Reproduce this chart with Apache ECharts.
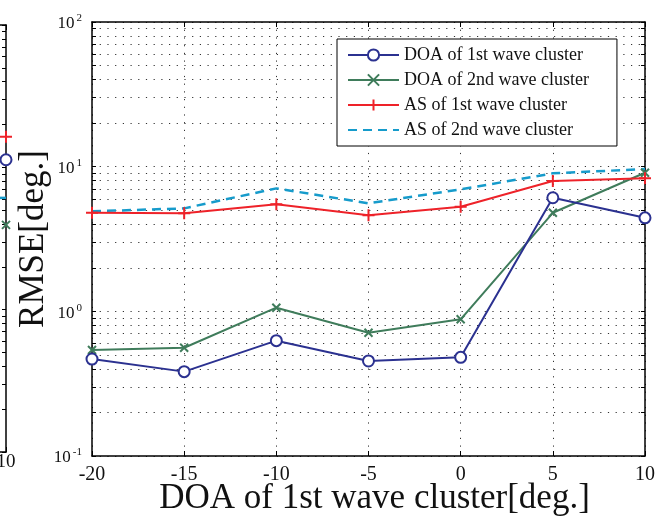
<!DOCTYPE html>
<html><head><meta charset="utf-8">
<script src="https://cdn.jsdelivr.net/npm/echarts@6/dist/echarts.min.js"></script>
<style>html,body{margin:0;padding:0;background:#fff}#c{width:667px;height:518px}</style>
</head><body><div id="c"></div>
<script>
const xValues = [-20, -15, -10, -5, 0, 5, 10];
const doa1 = [0.468, 0.383, 0.627, 0.454, 0.481, 6.10, 4.43];
const doa2 = [0.541, 0.560, 1.06, 0.711, 0.881, 4.80, 9.08];
const as1 = [4.80, 4.76, 5.49, 4.61, 5.28, 7.95, 8.30];
const as2 = [4.91, 5.15, 7.08, 5.58, 6.97, 8.99, 9.63];
// clipped neighbouring panel on the far left: only its x=10 points are visible
const leftX = [10];
const leftDoa1 = [11.3];
const leftDoa2 = [3.94];
const leftAs1 = [16.4];
const leftAs2 = [6.1];
const seriesNames = ['DOA of 1st wave cluster', 'DOA of 2nd wave cluster', 'AS of 1st wave cluster', 'AS of 2nd wave cluster'];
const xTickLabels = [-20, -15, -10, -5, 0, 5, 10];
const yMajor = [0.1, 1, 10, 100];
const yTicks = [0.1, 0.2, 0.3, 0.4, 0.5, 0.6, 0.7, 0.8, 0.9, 1, 2, 3, 4, 5, 6, 7, 8, 9, 10, 20, 30, 40, 50, 60, 70, 80, 90, 100];

const C_BLUE = '#2B3190', C_GREEN = '#3F7C5B', C_RED = '#EE2229', C_CYAN = '#169BCB';
const FONT = 'Liberation Serif';
const PLUS = 'path://M0,6L12,6M6,0L6,12';
const CROSS = 'path://M0,0L10,10M0,10L10,0';

function pairs(xs, ys) { return xs.map((x, i) => [x, ys[i]]); }

const chart = echarts.init(document.getElementById('c'), null, {renderer: 'canvas'});

const frameLine = {show: true, onZero: false, lineStyle: {color: '#000', width: 1.5}};
const dotted = {show: true, lineStyle: {color: '#333', width: 1, type: [1.2, 6.5]}};

function yLog(gridIndex, pos, extra) {
  return Object.assign({
    type: 'log', logBase: 10, min: 0.1, max: 100, gridIndex: gridIndex, position: pos,
    axisLine: frameLine,
    axisTick: {show: true, inside: true, length: 4, customValues: yTicks, lineStyle: {color: '#000', width: 1}},
    axisLabel: {show: false},
    splitLine: {show: false},
    minorTick: {show: false}
  }, extra || {});
}
function xLin(gridIndex, pos, extra) {
  return Object.assign({
    type: 'value', min: -20, max: 10, interval: 5, gridIndex: gridIndex, position: pos,
    axisLine: frameLine,
    axisTick: {show: true, inside: true, length: 5, lineStyle: {color: '#000', width: 1}},
    axisLabel: {show: false},
    splitLine: {show: false}
  }, extra || {});
}

const option = {
  animation: false,
  backgroundColor: '#fff',
  grid: [
    {left: 92, top: 22, width: 553, height: 434, outerBoundsMode: 'none', containLabel: false},
    {left: -547, top: 25, width: 553, height: 427, outerBoundsMode: 'none', containLabel: false}
  ],
  xAxis: [
    xLin(0, 'bottom', {
      axisLabel: {show: true, margin: 9, fontFamily: FONT, fontSize: 20, color: '#111',
        customValues: xTickLabels},
      splitLine: dotted,
      name: 'DOA of 1st wave cluster[deg.]', nameLocation: 'middle', nameGap: 25, nameMoveOverlap: false,
      nameTextStyle: {fontFamily: FONT, fontSize: 35, color: '#111', padding: [0, 0, 0, 12]}
    }),
    xLin(0, 'top'),
    xLin(1, 'bottom', {
      axisLabel: {show: true, margin: 1, fontFamily: FONT, fontSize: 19, color: '#111'}
    }),
    xLin(1, 'top')
  ],
  yAxis: [
    yLog(0, 'left', {
      splitLine: dotted,
      axisLabel: {show: true, margin: 10, customValues: yMajor, padding: [4, 0, 0, 0],
        formatter: function (v) { return '{b|10}{e|' + Math.round(Math.log10(v)) + '}'; },
        rich: {
          b: {fontFamily: FONT, fontSize: 17, color: '#111', lineHeight: 22, padding: [0, 2, 0, 0]},
          e: {fontFamily: FONT, fontSize: 11, color: '#111', lineHeight: 12, verticalAlign: 'top'}
        }
      },
      name: 'RMSE[deg.]', nameLocation: 'middle', nameGap: 41, nameMoveOverlap: false,
      nameTextStyle: {fontFamily: FONT, fontSize: 35, color: '#111'}
    }),
    yLog(0, 'right'),
    yLog(1, 'left'),
    yLog(1, 'right')
  ],
  legend: {
    orient: 'vertical', left: 337, top: 39, padding: [6, 28, 6, 10],
    itemGap: 5, itemWidth: 51, itemHeight: 14,
    backgroundColor: '#fff', borderColor: '#000', borderWidth: 1, borderRadius: 0,
    textStyle: {fontFamily: FONT, fontSize: 18, color: '#111', lineHeight: 20},
    data: [
      {name: seriesNames[0]},
      {name: seriesNames[1]},
      {name: seriesNames[2]},
      {name: seriesNames[3], itemStyle: {opacity: 0}}
    ]
  },
  series: [
    {name: seriesNames[0], type: 'line', xAxisIndex: 0, yAxisIndex: 0, data: pairs(xValues, doa1),
      symbol: 'emptyCircle', symbolSize: 11,
      lineStyle: {color: C_BLUE, width: 2}, itemStyle: {color: C_BLUE, borderColor: C_BLUE, borderWidth: 2}, z: 4},
    {name: seriesNames[1], type: 'line', xAxisIndex: 0, yAxisIndex: 0, data: pairs(xValues, doa2),
      symbol: CROSS, symbolSize: 8,
      lineStyle: {color: C_GREEN, width: 2}, itemStyle: {color: C_GREEN, borderColor: C_GREEN, borderWidth: 2}, z: 3},
    {name: seriesNames[2], type: 'line', xAxisIndex: 0, yAxisIndex: 0, data: pairs(xValues, as1),
      symbol: PLUS, symbolSize: 12,
      lineStyle: {color: C_RED, width: 2}, itemStyle: {color: C_RED, borderColor: C_RED, borderWidth: 2}, z: 3},
    {name: seriesNames[3], type: 'line', xAxisIndex: 0, yAxisIndex: 0, data: pairs(xValues, as2),
      symbol: 'none',
      lineStyle: {color: C_CYAN, width: 2.5, type: [9, 6]}, itemStyle: {color: C_CYAN}, z: 2},
    // clipped left panel
    {name: 'L1', type: 'line', xAxisIndex: 2, yAxisIndex: 2, data: pairs(leftX, leftDoa1),
      symbol: 'emptyCircle', symbolSize: 11, itemStyle: {color: C_BLUE, borderColor: C_BLUE, borderWidth: 2}},
    {name: 'L2', type: 'line', xAxisIndex: 2, yAxisIndex: 2, data: pairs(leftX, leftDoa2),
      symbol: CROSS, symbolSize: 8, itemStyle: {color: C_GREEN, borderColor: C_GREEN, borderWidth: 2}},
    {name: 'L3', type: 'line', xAxisIndex: 2, yAxisIndex: 2, data: pairs(leftX, leftAs1),
      symbol: PLUS, symbolSize: 12, itemStyle: {color: C_RED, borderColor: C_RED, borderWidth: 2}},
    {name: 'L4', type: 'line', xAxisIndex: 2, yAxisIndex: 2, data: pairs(leftX, leftAs2),
      symbol: 'rect', symbolSize: [6, 2.5], symbolOffset: [-3, 0], itemStyle: {color: C_CYAN}}
  ]
};
chart.setOption(option);
</script>
</body></html>
